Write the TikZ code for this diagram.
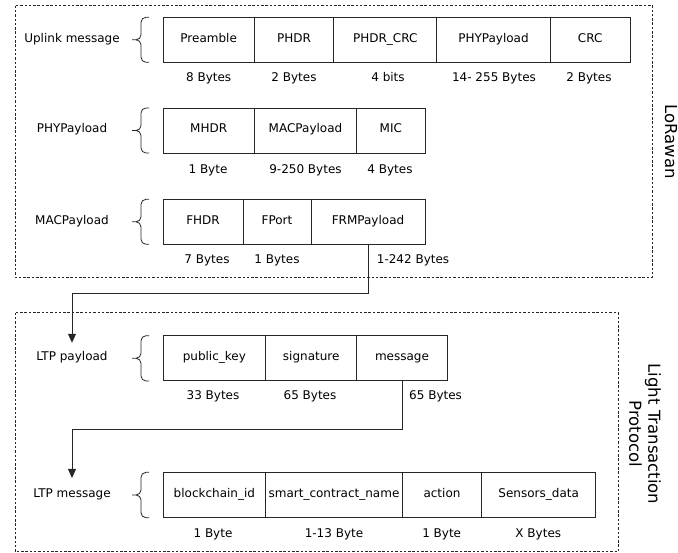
\documentclass[tikz,border=0pt]{standalone}
\usepackage{fontspec}
\setmainfont{DejaVu Sans}
\usetikzlibrary{arrows.meta}
\begin{document}
\begin{tikzpicture}[x=1pt,y=-1pt,font=\fontsize{12}{14}\selectfont,
  every node/.style={text height=.75em,text depth=.25em},
  field/.style={draw=black!85,line width=.8pt,minimum height=45pt,inner sep=0pt},
  lbrace/.style={draw=black!85,line width=.8pt,rounded corners=5pt},
  frame/.style={draw=black!85,line width=.7pt,dash pattern=on 2.5pt off 1.8pt},
  flow/.style={draw=black!85,line width=.8pt,-{Triangle[length=9pt,width=8pt]}},
  side/.style={rotate=-90,align=center,text height=,text depth=,font=\fontsize{16.5}{19}\selectfont}]
\useasboundingbox (0,0) rectangle (678,553);
\draw[frame] (15,5.7) rectangle (652.7,277);
\draw[frame] (15,312.7) rectangle (618.3,551.7);
\node[side] (lorawan) at (671,141.5) {LoRawan};
\node[side] (ltpside) at (645,434) {Light Transaction\\Protocol};
\node (uplinklbl) at (72,39.8) {Uplink message};
\draw[lbrace] (149,17.3) -- (141,17.3) -- (141,39.8) -- (132,39.8) (149,62.3) -- (141,62.3) -- (141,39.8) -- (132,39.8);
\node[field,minimum width=91.3pt] (preamble) at (208.65,39.8) {Preamble};
\node[field,minimum width=79.4pt] (phdr) at (294,39.8) {PHDR};
\node[field,minimum width=103pt] (phdrcrc) at (385.2,39.8) {PHDR\_CRC};
\node[field,minimum width=113.6pt] (phypl) at (493.5,39.8) {PHYPayload};
\node[field,minimum width=79.7pt] (crc) at (590.15,39.8) {CRC};
\node at (208.65,79.3) {8 Bytes};
\node at (294,79.3) {2 Bytes};
\node at (388,79.3) {4 bits};
\node at (494,79.3) {14- 255 Bytes};
\node at (589,79.3) {2 Bytes};
\node (phypllbl) at (72,130.5) {PHYPayload};
\draw[lbrace] (149,108) -- (141,108) -- (141,130.5) -- (132,130.5) (149,153) -- (141,153) -- (141,130.5) -- (132,130.5);
\node[field,minimum width=91.3pt] (mhdr) at (208.65,130.5) {MHDR};
\node[field,minimum width=102.4pt] (macpl) at (305.5,130.5) {MACPayload};
\node[field,minimum width=68.3pt] (mic) at (390.85,130.5) {MIC};
\node at (208,170.7) {1 Byte};
\node at (305.5,170.7) {9-250 Bytes};
\node at (390,170.7) {4 Bytes};
\node (macpllbl) at (72,221.8) {MACPayload};
\draw[lbrace] (149,199.3) -- (141,199.3) -- (141,221.8) -- (132,221.8) (149,244.3) -- (141,244.3) -- (141,221.8) -- (132,221.8);
\node[field,minimum width=80pt] (fhdr) at (203,221.8) {FHDR};
\node[field,minimum width=68pt] (fport) at (277,221.8) {FPort};
\node[field,minimum width=114pt] (frmpl) at (368,221.8) {FRMPayload};
\node at (207,260.7) {7 Bytes};
\node at (277,260.7) {1 Bytes};
\node[anchor=west,inner sep=0pt] at (376.7,260.7) {1-242 Bytes};
\node (ltppllbl) at (72,358.3) {LTP payload};
\draw[lbrace] (149,335.7) -- (141,335.7) -- (141,358.3) -- (132,358.3) (149,381) -- (141,381) -- (141,358.3) -- (132,358.3);
\node[field,minimum width=102.7pt] (pubkey) at (214.35,358.3) {public\_key};
\node[field,minimum width=91pt] (sig) at (311.2,358.3) {signature};
\node[field,minimum width=90.6pt] (msg) at (402,358.3) {message};
\node at (213,397.3) {33 Bytes};
\node at (310,397.3) {65 Bytes};
\node[anchor=west,inner sep=0pt] at (409,397.3) {65 Bytes};
\node (ltpmsglbl) at (72,494.5) {LTP message};
\draw[lbrace] (149,472.3) -- (141,472.3) -- (141,495) -- (132,495) (149,517.7) -- (141,517.7) -- (141,495) -- (132,495);
\node[field,minimum width=102.7pt] (chainid) at (214.35,495) {blockchain\_id};
\node[field,minimum width=136.6pt] (scname) at (334,495) {smart\_contract\_name};
\node[field,minimum width=79.4pt] (action) at (442,495) {action};
\node[field,minimum width=114pt] (sensors) at (538.7,495) {Sensors\_data};
\node at (213,535) {1 Byte};
\node at (334,535) {1-13 Byte};
\node at (441.7,535) {1 Byte};
\node at (538.3,535) {X Bytes};
\draw[flow,shorten >=7pt] (frmpl.south) -- ++(0,49) -| (ltppllbl.north);
\draw[flow,shorten >=8pt] (msg.south) -- ++(0,48.3) -| (ltpmsglbl.north);
\end{tikzpicture}
\end{document}
